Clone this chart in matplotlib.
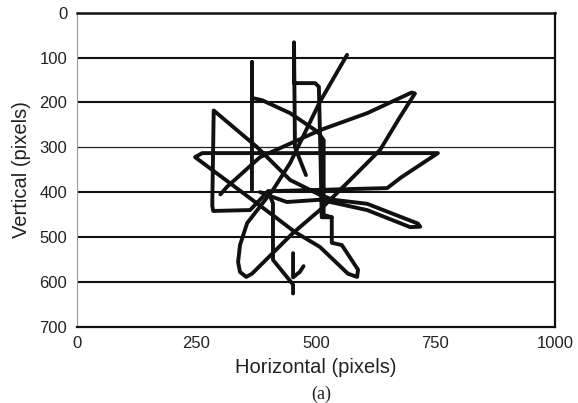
import matplotlib
matplotlib.use("Agg")
import matplotlib.pyplot as plt
import numpy as np

plt.rcParams['font.family'] = ['Liberation Sans', 'DejaVu Sans']

# Scanpath strokes (data coords: horizontal / vertical pixels)
strokeA_x = [479, 456, 454, 454, 498, 506, 509, 512, 533, 533, 554, 588, 586, 567, 508, 456, 414, 320, 247,
             262, 755, 677, 649, 400, 362, 285, 283, 286, 376, 446, 508, 536, 607, 713, 718, 697, 607, 508,
             439, 410, 383]
strokeA_y = [362, 300, 66, 157, 157, 165, 300, 456, 456, 513, 518, 573, 589, 582, 522, 489, 455, 380, 322,
             313, 313, 368, 391, 398, 440, 442, 430, 218, 299, 373, 406, 417, 426, 470, 477, 478, 440, 417,
             422, 411, 400]

strokeB_x = [565, 508, 446, 410, 356, 341, 337, 341, 354, 366, 452, 508, 592, 634, 676, 707, 700, 607, 508,
             383, 314, 300]
strokeB_y = [94, 199, 335, 395, 469, 518, 556, 578, 589, 582, 491, 440, 351, 306, 232, 180, 178, 224, 262,
             322, 388, 405]

strokeC_x = [366, 366, 366, 366, 387, 446, 504, 516, 516, 533]
strokeC_y = [395, 110, 190, 190, 195, 224, 266, 284, 451, 456]

strokeD_x = [400, 410, 410, 452, 452]
strokeD_y = [398, 425, 551, 606, 626]

strokeE_x = [452, 452, 466, 474]
strokeE_y = [536, 590, 578, 565]

strokes = [(strokeA_x, strokeA_y), (strokeB_x, strokeB_y), (strokeC_x, strokeC_y),
           (strokeD_x, strokeD_y), (strokeE_x, strokeE_y)]

y_ticks = [0, 100, 200, 300, 400, 500, 600, 700]
x_ticks = [0, 250, 500, 750, 1000]

fig = plt.figure(figsize=(5.78, 4.03), dpi=100)
ax = fig.add_axes([77/578, 1-326.7/403, (555-77)/578, (326.7-12.7)/403])

# horizontal grid lines
for yv in [100, 200, 400, 500, 600]:
    ax.axhline(yv, color='#111111', lw=1.5, zorder=1)
ax.axhline(300, color='#222222', lw=0.9, zorder=1)

for sx, sy in strokes:
    ax.plot(sx, sy, color='#111111', lw=2.8, solid_capstyle='round', solid_joinstyle='round', zorder=3)

ax.set_xlim(0, 1000)
ax.set_ylim(700, 0)
ax.set_xticks(x_ticks)
ax.set_yticks(y_ticks)
ax.tick_params(length=0, labelsize=12, pad=7, colors='#222222')

ax.spines['left'].set_color('#999999')
ax.spines['left'].set_linewidth(0.8)
ax.spines['top'].set_color('#111111')
ax.spines['top'].set_linewidth(1.8)
ax.spines['bottom'].set_color('#111111')
ax.spines['bottom'].set_linewidth(1.6)
ax.spines['right'].set_color('#111111')
ax.spines['right'].set_linewidth(1.6)

ax.set_xlabel('Horizontal (pixels)', fontsize=14.5, labelpad=5, color='#222222')
ax.set_ylabel('Vertical (pixels)', fontsize=14.5, labelpad=6, color='#222222')
fig.text(321/578, 1-394/403, '(a)', ha='center', va='center', fontsize=13,
         family=['Liberation Serif', 'DejaVu Serif'], color='#222222')

fig.savefig('out.png', dpi=100)
